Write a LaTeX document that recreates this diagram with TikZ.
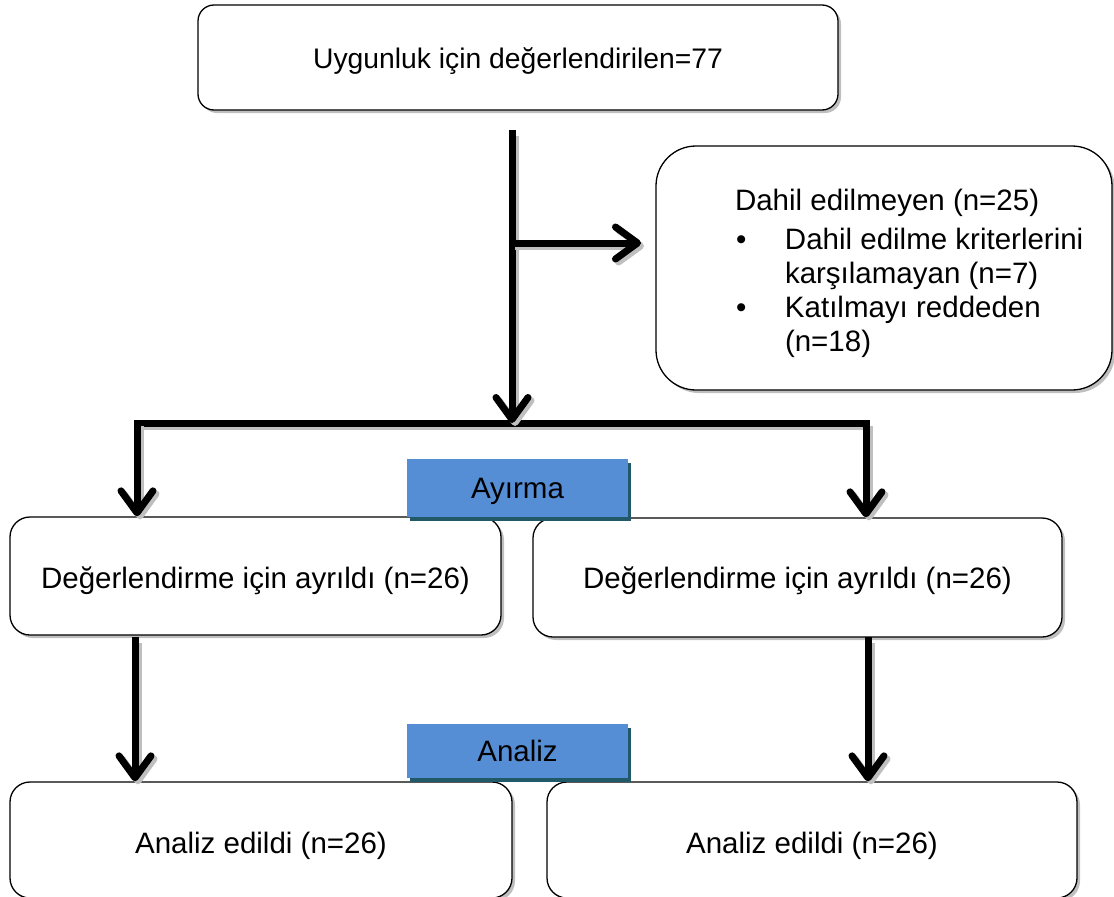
\documentclass[tikz,border=0pt]{standalone}
\usepackage{fontspec}
\setmainfont{Liberation Sans}
\usetikzlibrary{arrows.meta,shadows}
\definecolor{labelblue}{HTML}{558ED5}
\definecolor{labelshadow}{HTML}{215968}
\definecolor{shadowgray}{HTML}{BFBFBF}
\newcommand{\lowtext}[2]{\raisebox{-#1}[22pt][6pt]{#2}}
\begin{document}
\begin{tikzpicture}[x=1pt,y=-1pt,
  box/.style={draw=black, line width=1.3pt, fill=white, rounded corners=#1,
    drop shadow={shadow xshift=3pt,shadow yshift=-3pt,fill=shadowgray,opacity=1},
    font=\fontsize{29.5}{34}\selectfont, inner sep=0pt, align=center},
  box/.default=16pt,
  tagbox/.style={fill=labelblue, minimum width=221pt, minimum height=58pt, inner sep=0pt,
    drop shadow={shadow xshift=3pt,shadow yshift=-4pt,fill=labelshadow,opacity=1},
    font=\fontsize{29.5}{34}\selectfont},
  conn/.style={line width=7pt, line cap=rect,
    preaction={draw=shadowgray, line width=7pt, transform canvas={shift={(3pt,-3pt)}}}},
  tip/.style={-{Straight Barb[round,length=22pt,width=32pt]}}
]
\useasboundingbox (0,0) rectangle (1114,897);

% boxes
\node[box, minimum width=640pt, minimum height=105pt, font=\fontsize{28.3}{34}\selectfont] (top) at (518,57.5) {\lowtext{3pt}{Uygunluk için değerlendirilen=77}};
\node[box=40pt, minimum width=456pt, minimum height=244pt] (excl) at (884,268) {%
  \makebox[456pt][l]{\hspace{79pt}\raisebox{-12pt}[80pt][80pt]{%
  \begin{tabular}{@{}p{50pt}@{}l@{}}
  \multicolumn{2}{@{}l@{}}{Dahil edilmeyen (n=25)}\\[5pt]
  \hspace{1pt}• & Dahil edilme kriterlerini\\
   & karşılamayan (n=7)\\
  \hspace{1pt}• & Katılmayı reddeden\\
   & (n=18)
  \end{tabular}}}};
\node[box=20pt, minimum width=491pt, minimum height=118pt] (ml) at (255.5,576) {\lowtext{4pt}{Değerlendirme için ayrıldı (n=26)}};
\node[box=20pt, minimum width=529pt, minimum height=119pt] (mr) at (797.5,577.5) {\lowtext{3pt}{Değerlendirme için ayrıldı (n=26)}};
\node[box=20pt, minimum width=502pt, minimum height=116pt] (bl) at (261,840) {\lowtext{5pt}{Analiz edildi (n=26)}};
\node[box=20pt, minimum width=530pt, minimum height=116pt] (br) at (812,840) {\lowtext{5pt}{Analiz edildi (n=26)}};

% connector points
\coordinate (s) at (512,133);
\coordinate (j) at (512,423);
\coordinate (b) at (512,243);
\coordinate (be) at (641,243);
\coordinate (bl0) at (137,423);
\coordinate (br0) at (866,423);
\coordinate (ls) at (135,640);
\coordinate (rs) at (868,640);

% connectors
\draw[conn] (bl0) -- (br0);
\draw[conn, tip] (s) -- (j);
\draw[conn, tip] (b) -- (be);
\draw[conn, tip] (bl0) -- (bl0 |- ml.north);
\draw[conn, tip] (br0) -- (br0 |- mr.north);
\draw[conn, tip] (ls) -- (ls |- bl.north);
\draw[conn, tip] (rs) -- (rs |- br.north);

% labels
\node[tagbox] (ayirma) at (517.5,488) {\lowtext{2pt}{Ayırma}};
\node[tagbox, minimum height=54pt] (analiz) at (517.5,751) {\lowtext{2pt}{Analiz}};
\end{tikzpicture}
\end{document}
